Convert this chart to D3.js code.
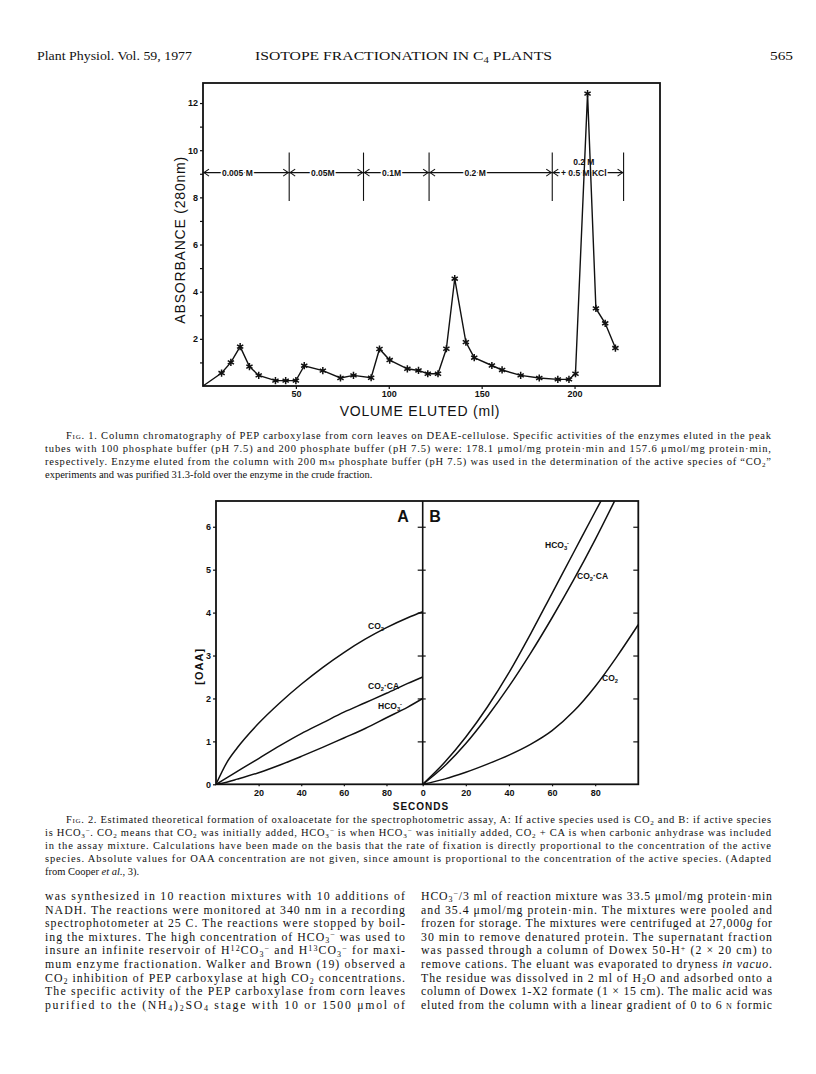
<!DOCTYPE html>
<html>
<head>
<meta charset="utf-8">
<script src="https://cdn.jsdelivr.net/npm/d3@7"></script>
<style>body{margin:0;background:#fff}</style>
</head>
<body>
<script>
// ---- Fig. 1 data (column chromatography) ----
var volume = [0,10,15,20,25,30,39,44.5,50,54.5,64.5,74,81,90.5,95,100.5,110,116,121,126.5,131,135.5,141.5,146,155.5,161,171,181,191,197,200.5,207,211.5,216.5,222];
var absorbance = [0,0.55,1.0,1.67,0.82,0.45,0.23,0.23,0.23,0.86,0.65,0.34,0.45,0.35,1.57,1.1,0.73,0.66,0.52,0.52,1.58,4.55,1.86,1.2,0.87,0.68,0.45,0.34,0.28,0.28,0.52,12.4,3.29,2.66,1.61];
var bufferBreaks = [0,46.4,86.4,121.7,188,226.4];
var bufferLabels = ["0.005 M","0.05M","0.1M","0.2 M",["0.2 M","+ 0.5 M KCl"]];
var bufferLabelAt = [18.5,64.5,101.5,146.5,205];
var fig1XTicks = [50,100,150,200];

// ---- Fig. 2 data (theoretical OAA formation) ----
var secA = [0,5,10,20,30,40,50,60,70,80,90,97];
var aCO2 = [0,0.5,0.85,1.42,1.9,2.33,2.72,3.07,3.38,3.65,3.88,4.02];
var aCO2CA = [0,0.15,0.3,0.6,0.9,1.18,1.43,1.68,1.9,2.12,2.35,2.5];
var aHCO3 = [0,0.05,0.12,0.27,0.45,0.65,0.86,1.08,1.3,1.55,1.8,2.0];
var secBHCO3 = [0,10,20,30,40,50,60,70,80,83];
var bHCO3 = [0,0.5,1.1,1.8,2.6,3.5,4.45,5.4,6.35,6.63];
var secBCO2CA = [0,10,20,30,40,50,60,70,80,89];
var bCO2CA = [0,0.42,0.95,1.58,2.28,3.05,3.88,4.76,5.7,6.6];
var secBCO2 = [0,10,20,30,40,50,60,70,80,90,100];
var bCO2 = [0,0.12,0.28,0.47,0.68,0.93,1.25,1.7,2.28,2.97,3.72];
var fig2YTicks = [0,1,2,3,4,5,6];
var fig2XTicksA = [20,40,60,80];
var fig2XTicksB = [0,20,40,60,80];

var sans = "'Liberation Sans', Arial, sans-serif";
var serif = "'Liberation Serif', 'Times New Roman', serif";
var ink = "#111";

var svg = d3.select("body").append("svg")
    .attr("width", 816).attr("height", 1074)
    .style("background", "#fff");

// rich text: _{sub} ^{sup} *italic* ~smallcaps~
function rich(g, str, x, y, o) {
    var t = g.append("text").attr("x", x).attr("y", y)
        .attr("font-family", o.family || serif)
        .attr("font-size", o.size)
        .attr("font-weight", o.weight || "normal")
        .attr("fill", ink);
    if (o.width) t.attr("textLength", o.width).attr("lengthAdjust", o.adjust || "spacing");
    if (o.anchor) t.attr("text-anchor", o.anchor);
    var parts = str.split(/(_\{[^}]*\}|\^\{[^}]*\}|\*[^*]*\*|~[^~]*~)/);
    var cur = 0;
    parts.forEach(function(p) {
        if (!p) return;
        var target = 0, txt = p, fs = null, style = null, caps = false;
        if (p[0] === "_" && p[1] === "{") { target = o.size * 0.2; txt = p.slice(2, -1); fs = o.size * 0.68; }
        else if (p[0] === "^" && p[1] === "{") { target = -o.size * 0.3; txt = p.slice(2, -1); fs = o.size * 0.68; }
        else if (p[0] === "*") { txt = p.slice(1, -1); style = "italic"; }
        else if (p[0] === "~") { txt = p.slice(1, -1); caps = true; }
        var s = t.append("tspan").text(txt);
        if (target !== cur) { s.attr("dy", target - cur); cur = target; }
        if (fs) s.attr("font-size", fs);
        if (style) s.attr("font-style", style);
        if (caps) s.style("font-variant", "small-caps");
    });
    return t;
}

// ---- running head ----
var head = svg.append("g");
rich(head, "Plant Physiol. Vol. 59, 1977", 37, 60, {size: 13, width: 155, adjust: "spacingAndGlyphs"});
rich(head, "ISOTOPE FRACTIONATION IN C_{4} PLANTS", 255, 60, {size: 13, width: 297, adjust: "spacingAndGlyphs"});
rich(head, "565", 770, 60, {size: 13, width: 23, adjust: "spacingAndGlyphs"});

// ================= Fig. 1 =================
var x1 = d3.scaleLinear().domain([0, 246]).range([203, 660]);
var y1 = d3.scaleLinear().domain([0, 12.85]).range([386, 83]);
var g1 = svg.append("g");

g1.append("rect")
    .attr("x", x1.range()[0]).attr("y", y1.range()[1])
    .attr("width", x1.range()[1] - x1.range()[0])
    .attr("height", y1.range()[0] - y1.range()[1])
    .attr("fill", "none").attr("stroke", ink).attr("stroke-width", 1.8);

var yAx1 = g1.append("g").attr("transform", "translate(" + x1(0) + ",0)")
    .call(d3.axisLeft(y1).tickValues(d3.range(1, 13)).tickSize(3).tickPadding(2)
        .tickFormat(function(d) { return d % 2 === 0 ? d : ""; }));
var xAx1 = g1.append("g").attr("transform", "translate(0," + y1(0) + ")")
    .call(d3.axisBottom(x1).tickValues(fig1XTicks).tickSize(3).tickPadding(2));
[yAx1, xAx1].forEach(function(a) {
    a.select(".domain").remove();
    a.attr("font-family", sans).attr("font-size", 9).attr("font-weight", "bold");
    a.selectAll("line").attr("stroke", ink).attr("stroke-width", 1.2);
    a.selectAll("text").attr("fill", ink);
});

g1.append("text").attr("transform", "translate(180," + y1(6.2) + ") rotate(-90)")
    .attr("text-anchor", "middle").attr("dominant-baseline", "central")
    .attr("font-family", sans).attr("font-size", 14).attr("letter-spacing", 0.8)
    .attr("fill", ink).text("ABSORBANCE (280nm)");
g1.append("text").attr("x", 420).attr("y", 411)
    .attr("text-anchor", "middle").attr("dominant-baseline", "central")
    .attr("font-family", sans).attr("font-size", 14).attr("letter-spacing", 0.8)
    .attr("fill", ink).text("VOLUME ELUTED (ml)");

// buffer steps
var by = y1(9.05);
var buf = g1.append("g").attr("stroke", ink).attr("stroke-width", 1.1).attr("fill", "none");
for (var i = 0; i < bufferBreaks.length - 1; i++) {
    var xa = x1(bufferBreaks[i]), xb = x1(bufferBreaks[i + 1]);
    buf.append("line").attr("x1", xa).attr("x2", xb).attr("y1", by).attr("y2", by);
    buf.append("path").attr("d", "M" + (xa + 6) + "," + (by - 3.5) + "L" + (xa + 1) + "," + by + "L" + (xa + 6) + "," + (by + 3.5));
    buf.append("path").attr("d", "M" + (xb - 6) + "," + (by - 3.5) + "L" + (xb - 1) + "," + by + "L" + (xb - 6) + "," + (by + 3.5));
}
bufferBreaks.slice(1).forEach(function(b) {
    buf.append("line").attr("x1", x1(b)).attr("x2", x1(b)).attr("y1", y1(9.9)).attr("y2", y1(7.85));
});
bufferLabels.forEach(function(l, i) {
    var lines = Array.isArray(l) ? l : [l];
    lines.forEach(function(s, j) {
        g1.append("text").attr("x", x1(bufferLabelAt[i]))
            .attr("y", by + (lines.length > 1 ? (j - 1) * 11 : 0))
            .attr("text-anchor", "middle").attr("dominant-baseline", "central")
            .attr("font-family", sans).attr("font-size", 8.5).attr("font-weight", "bold")
            .attr("fill", ink).attr("stroke", "#fff").attr("stroke-width", 3)
            .attr("paint-order", "stroke").text(s);
    });
});

// elution profile
var prof = volume.map(function(v, i) { return [v, absorbance[i]]; });
g1.append("path").datum(prof)
    .attr("d", d3.line().x(function(d) { return x1(d[0]); }).y(function(d) { return y1(d[1]); }))
    .attr("fill", "none").attr("stroke", ink).attr("stroke-width", 1.4);
g1.selectAll(".pt").data(prof.slice(1)).enter().append("path")
    .attr("class", "pt")
    .attr("transform", function(d) { return "translate(" + x1(d[0]) + "," + y1(d[1]) + ")"; })
    .attr("d", d3.symbol().type(d3.symbolAsterisk).size(36))
    .attr("fill", "none").attr("stroke", ink).attr("stroke-width", 1.5);

// ---- captions and body helper ----
function block(lines, x0, firstX, y0, lh, size, right, lastFull) {
    var g = svg.append("g");
    lines.forEach(function(s, i) {
        var x = i === 0 ? firstX : x0;
        var full = i < lines.length - 1 || lastFull;
        rich(g, s, x, y0 + i * lh, {size: size, width: full ? right - x : null});
    });
}

block([
    "~Fig~. 1. Column chromatography of PEP carboxylase from corn leaves on DEAE-cellulose. Specific activities of the enzymes eluted in the peak",
    "tubes with 100 phosphate buffer (pH 7.5) and 200 phosphate buffer (pH 7.5) were: 178.1 \u03bcmol/mg protein\u00b7min and 157.6 \u03bcmol/mg protein\u00b7min,",
    "respectively. Enzyme eluted from the column with 200 m~m~ phosphate buffer (pH 7.5) was used in the determination of the active species of \u201cCO_{2}\u201d",
    "experiments and was purified 31.3-fold over the enzyme in the crude fraction."
], 45, 66, 439, 13, 10.5, 771, false);

// ================= Fig. 2 =================
var xA = d3.scaleLinear().domain([0, 97]).range([216, 422.7]);
var xB = d3.scaleLinear().domain([0, 100]).range([422.7, 638.3]);
var y2 = d3.scaleLinear().domain([0, 6.6]).range([784.3, 501]);
var g2 = svg.append("g");

g2.append("rect")
    .attr("x", xA.range()[0]).attr("y", y2.range()[1])
    .attr("width", xB.range()[1] - xA.range()[0])
    .attr("height", y2.range()[0] - y2.range()[1])
    .attr("fill", "none").attr("stroke", ink).attr("stroke-width", 1.8);
g2.append("line").attr("x1", xB(0)).attr("x2", xB(0))
    .attr("y1", y2.range()[0]).attr("y2", y2.range()[1])
    .attr("stroke", ink).attr("stroke-width", 1.6);

var intFmt = d3.format("d");
var axes2 = [];
axes2.push(g2.append("g").attr("transform", "translate(" + xA(0) + ",0)")
    .call(d3.axisLeft(y2).tickValues(fig2YTicks).tickSize(3).tickPadding(2).tickFormat(intFmt)));
axes2.push(g2.append("g").attr("transform", "translate(" + xB(0) + ",0)")
    .call(d3.axisLeft(y2).tickValues(fig2YTicks.slice(1)).tickSize(5).tickFormat("")));
axes2.push(g2.append("g").attr("transform", "translate(" + xB(0) + ",0)")
    .call(d3.axisRight(y2).tickValues(fig2YTicks.slice(1)).tickSize(3).tickFormat("")));
axes2.push(g2.append("g").attr("transform", "translate(" + xB(100) + ",0)")
    .call(d3.axisLeft(y2).tickValues(fig2YTicks.slice(1)).tickSize(5).tickFormat("")));
axes2.push(g2.append("g").attr("transform", "translate(0," + y2(0) + ")")
    .call(d3.axisBottom(xA).tickValues(fig2XTicksA).tickSize(2).tickPadding(3).tickFormat(intFmt)));
axes2.push(g2.append("g").attr("transform", "translate(0," + y2(0) + ")")
    .call(d3.axisBottom(xB).tickValues(fig2XTicksB).tickSize(2).tickPadding(3).tickFormat(intFmt)));
axes2.forEach(function(a) {
    a.select(".domain").remove();
    a.attr("font-family", sans).attr("font-size", 9).attr("font-weight", "bold");
    a.selectAll("line").attr("stroke", ink).attr("stroke-width", 1.2);
    a.selectAll("text").attr("fill", ink);
});

g2.append("text").attr("transform", "translate(199," + y2(2.75) + ") rotate(-90)")
    .attr("text-anchor", "middle").attr("dominant-baseline", "central")
    .attr("font-family", sans).attr("font-size", 11).attr("font-weight", "bold")
    .attr("letter-spacing", 1).attr("fill", ink).text("[OAA]");
g2.append("text").attr("x", 421).attr("y", 806)
    .attr("text-anchor", "middle").attr("dominant-baseline", "central")
    .attr("font-family", sans).attr("font-size", 10).attr("font-weight", "bold")
    .attr("letter-spacing", 1).attr("fill", ink).text("SECONDS");

g2.append("text").attr("x", 403).attr("y", 522).attr("text-anchor", "middle")
    .attr("font-family", sans).attr("font-size", 16).attr("font-weight", "bold")
    .attr("fill", ink).text("A");
g2.append("text").attr("x", 435).attr("y", 522).attr("text-anchor", "middle")
    .attr("font-family", sans).attr("font-size", 16).attr("font-weight", "bold")
    .attr("fill", ink).text("B");

g2.append("clipPath").attr("id", "clipA").append("rect")
    .attr("x", xA(0)).attr("y", y2.range()[1]).attr("width", xA(97) - xA(0)).attr("height", y2(0) - y2.range()[1]);
g2.append("clipPath").attr("id", "clipB").append("rect")
    .attr("x", xB(0)).attr("y", y2.range()[1]).attr("width", xB(100) - xB(0)).attr("height", y2(0) - y2.range()[1]);

function curve(xs, ys, xs_scale, clip) {
    var pts = xs.map(function(t, i) { return [t, ys[i]]; });
    g2.append("path").datum(pts)
        .attr("clip-path", "url(#" + clip + ")")
        .attr("d", d3.line().curve(d3.curveMonotoneX)
            .x(function(d) { return xs_scale(d[0]); })
            .y(function(d) { return y2(d[1]); }))
        .attr("fill", "none").attr("stroke", ink).attr("stroke-width", 1.5);
}
curve(secA, aCO2, xA, "clipA");
curve(secA, aCO2CA, xA, "clipA");
curve(secA, aHCO3, xA, "clipA");
curve(secBHCO3, bHCO3, xB, "clipB");
curve(secBCO2CA, bCO2CA, xB, "clipB");
curve(secBCO2, bCO2, xB, "clipB");

var lab = {family: sans, size: 8.5, weight: "bold"};
rich(g2, "CO_{2}", 368, 629, lab);
rich(g2, "CO_{2}\u00b7CA", 368, 689, lab);
rich(g2, "HCO_{3}^{-}", 378, 709, lab);
rich(g2, "HCO_{3}^{-}", 545, 548, lab);
rich(g2, "CO_{2}\u00b7CA", 577, 579, lab);
rich(g2, "CO_{2}", 602, 681, lab);

block([
    "~Fig~. 2. Estimated theoretical formation of oxaloacetate for the spectrophotometric assay, A: If active species used is CO_{2} and B: if active species",
    "is HCO_{3}^{\u2212}. CO_{2} means that CO_{2} was initially added, HCO_{3}^{\u2212} is when HCO_{3}^{\u2212} was initially added, CO_{2} + CA is when carbonic anhydrase was included",
    "in the assay mixture. Calculations have been made on the basis that the rate of fixation is directly proportional to the concentration of the active",
    "species. Absolute values for OAA concentration are not given, since amount is proportional to the concentration of the active species. (Adapted",
    "from Cooper *et al.*, 3)."
], 45, 66, 823, 13, 10.5, 771, false);

// ---- body text, two columns ----
block([
    "was synthesized in 10 reaction mixtures with 10 additions of",
    "NADH. The reactions were monitored at 340 nm in a recording",
    "spectrophotometer at 25 C. The reactions were stopped by boil-",
    "ing the mixtures. The high concentration of HCO_{3}^{\u2212} was used to",
    "insure an infinite reservoir of H^{12}CO_{3}^{\u2212} and H^{13}CO_{3}^{\u2212} for maxi-",
    "mum enzyme fractionation. Walker and Brown (19) observed a",
    "CO_{2} inhibition of PEP carboxylase at high CO_{2} concentrations.",
    "The specific activity of the PEP carboxylase from corn leaves",
    "purified to the (NH_{4})_{2}SO_{4} stage with 10 or 1500 \u03bcmol of"
], 45, 45, 900, 13.6, 11.8, 405, true);

block([
    "HCO_{3}^{\u2212}/3 ml of reaction mixture was 33.5 \u03bcmol/mg protein\u00b7min",
    "and 35.4 \u03bcmol/mg protein\u00b7min. The mixtures were pooled and",
    "frozen for storage. The mixtures were centrifuged at 27,000*g* for",
    "30 min to remove denatured protein. The supernatant fraction",
    "was passed through a column of Dowex 50-H^{+} (2 \u00d7 20 cm) to",
    "remove cations. The eluant was evaporated to dryness *in vacuo*.",
    "The residue was dissolved in 2 ml of H_{2}O and adsorbed onto a",
    "column of Dowex 1-X2 formate (1 \u00d7 15 cm). The malic acid was",
    "eluted from the column with a linear gradient of 0 to 6 ~n~ formic"
], 421, 421, 900, 13.6, 11.8, 772, true);
</script>
</body>
</html>
